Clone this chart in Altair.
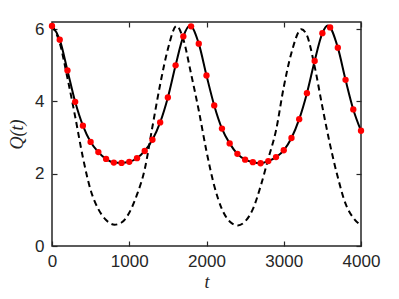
import altair as alt
import pandas as pd

# red dots (numerical samples)
dot_t = list(range(0, 4001, 100))
dot_q = [6.09, 5.71, 4.86, 3.99, 3.33, 2.88, 2.60, 2.41, 2.31, 2.30,
         2.33, 2.43, 2.63, 2.94, 3.42, 4.11, 5.00, 5.80, 6.08, 5.60,
         4.72, 3.89, 3.25, 2.84, 2.55, 2.39, 2.32, 2.29, 2.35, 2.46,
         2.65, 2.99, 3.51, 4.23, 5.12, 5.89, 6.05, 5.49, 4.60, 3.78,
         3.19]

# solid curve
solid_t = [0, 100, 200, 300, 400, 500, 600, 700, 800, 900, 1000, 1100, 1200,
           1300, 1400, 1500, 1600, 1700, 1785, 1900, 2000, 2100, 2200, 2300,
           2400, 2500, 2600, 2700, 2800, 2900, 3000, 3100, 3200, 3300, 3400,
           3500, 3570, 3700, 3800, 3900, 4000]
solid_q = [6.09, 5.71, 4.86, 3.99, 3.33, 2.88, 2.60, 2.41, 2.31, 2.30, 2.33,
           2.43, 2.63, 2.94, 3.42, 4.11, 5.00, 5.80, 6.10, 5.60, 4.72, 3.89,
           3.25, 2.84, 2.55, 2.39, 2.32, 2.29, 2.35, 2.46, 2.65, 2.99, 3.51,
           4.23, 5.12, 5.89, 6.10, 5.49, 4.60, 3.78, 3.19]

# dashed curve
dash_t = [0, 100, 200, 300, 400, 500, 600, 700, 810, 900, 1000, 1100, 1200,
          1300, 1400, 1500, 1612, 1700, 1800, 1900, 2000, 2100, 2200, 2300,
          2405, 2500, 2600, 2700, 2800, 2900, 3000, 3100, 3228, 3300, 3400,
          3500, 3600, 3700, 3800, 3900, 4000]
dash_q = [6.10, 5.62, 4.65, 3.58, 2.45, 1.55, 1.02, 0.72, 0.59, 0.65, 0.92,
          1.42, 2.12, 3.30, 4.47, 5.45, 6.09, 5.72, 4.77, 3.75, 2.62, 1.67,
          1.02, 0.68, 0.57, 0.68, 1.02, 1.65, 2.42, 3.20, 4.40, 5.35, 6.00,
          5.83, 4.97, 3.85, 2.80, 1.90, 1.17, 0.78, 0.57]

x_ticks = [0, 1000, 2000, 3000, 4000]
y_ticks = [0, 2, 4, 6]

dots = pd.DataFrame({"t": dot_t, "Q": dot_q})
solid = pd.DataFrame({"t": solid_t, "Q": solid_q})
dashed = pd.DataFrame({"t": dash_t, "Q": dash_q})

AX = "#262626"
xs = alt.Scale(domain=[0, 4000], nice=False, zero=False)
ys = alt.Scale(domain=[0, 6.2], nice=False, zero=False)

tick_common = dict(grid=False, domain=False, tickColor=AX, tickWidth=1.2,
                   tickSize=5, offset=-5, labelFont="Liberation Sans",
                   labelFontSize=17, labelColor=AX, format="d")

x_bottom = alt.Axis(values=x_ticks, orient="bottom", labelPadding=7,
                    title="t", titleFont="Liberation Serif",
                    titleFontStyle="italic", titleFontWeight="normal",
                    titleFontSize=18, titleColor=AX, titlePadding=4,
                    labelFlush=False, **tick_common)
y_left = alt.Axis(values=y_ticks, orient="left", labelPadding=8,
                  title="Q(t)", titleFont="Liberation Serif",
                  titleFontStyle="italic", titleFontWeight="normal",
                  titleFontSize=18, titleColor=AX, titlePadding=8,
                  labelFlush=False, **tick_common)
x_top = alt.Axis(values=x_ticks, orient="top", labels=False, title=None,
                 **tick_common)
y_right = alt.Axis(values=y_ticks, orient="right", labels=False, title=None,
                   **tick_common)

solid_layer = alt.Chart(solid).mark_line(
    color="black", strokeWidth=2, interpolate="monotone"
).encode(
    x=alt.X("t:Q", scale=xs, axis=x_bottom),
    y=alt.Y("Q:Q", scale=ys, axis=y_left),
)

dash_layer = alt.Chart(dashed).mark_line(
    color="black", strokeWidth=2, strokeDash=[6, 4], interpolate="monotone"
).encode(
    x=alt.X("t:Q", scale=xs, axis=x_top),
    y=alt.Y("Q:Q", scale=ys, axis=y_right),
)

dot_layer = alt.Chart(dots).mark_circle(
    color="#ff0000", opacity=1, size=40
).encode(
    x=alt.X("t:Q", scale=xs, axis=None),
    y=alt.Y("Q:Q", scale=ys, axis=None),
)

chart = alt.layer(solid_layer, dash_layer, dot_layer).resolve_axis(
    x="independent", y="independent"
).properties(
    width=309, height=224,
    autosize=alt.AutoSizeParams(type="none"),
    padding={"left": 44, "top": 14, "right": 30, "bottom": 45},
    background="white",
).configure_view(stroke=AX, strokeWidth=1.5)

chart.save("out.html", embed_options={"renderer": "svg", "actions": False})
